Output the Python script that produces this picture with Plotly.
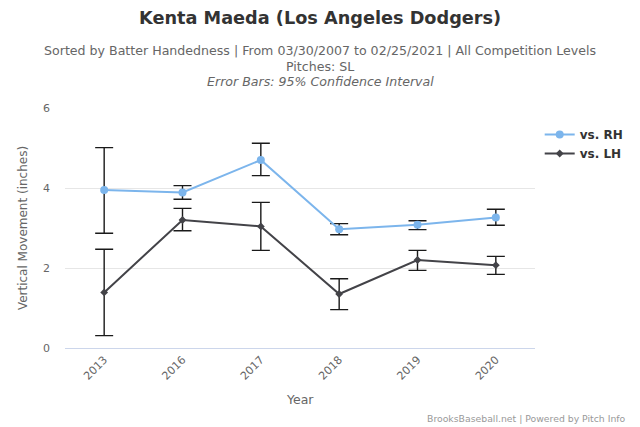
import plotly.graph_objects as go

years = ["2013", "2016", "2017", "2018", "2019", "2020"]
rh_vals = [3.95, 3.89, 4.70, 2.97, 3.08, 3.26]
rh_hi = [5.01, 4.06, 5.12, 3.11, 3.18, 3.47]
rh_lo = [2.87, 3.72, 4.31, 2.83, 2.96, 3.07]
lh_vals = [1.39, 3.20, 3.04, 1.35, 2.20, 2.07]
lh_hi = [2.47, 3.49, 3.64, 1.73, 2.44, 2.29]
lh_lo = [0.31, 2.93, 2.44, 0.96, 1.94, 1.84]

FONT = "DejaVu Sans"
W, H = 632, 419
L, R, T, B = 57, 105, 100, 79
PW, PH = W - L - R, H - T - B


def px(x):
    return (x - L) / PW


def py(y):
    return (H - B - y) / PH


def err(vals, hi, lo):
    return dict(type="data", symmetric=False,
                array=[h - v for h, v in zip(hi, vals)],
                arrayminus=[v - l for v, l in zip(vals, lo)],
                color="#1a1a1a", thickness=1.4, width=9)


fig = go.Figure()
fig.add_trace(go.Scatter(x=years, y=rh_vals, name="vs. RH", mode="lines+markers",
                         line=dict(color="#7cb5ec", width=2),
                         marker=dict(symbol="circle", size=8, color="#7cb5ec"),
                         error_y=err(rh_vals, rh_hi, rh_lo)))
fig.add_trace(go.Scatter(x=years, y=lh_vals, name="vs. LH", mode="lines+markers",
                         line=dict(color="#434348", width=2),
                         marker=dict(symbol="diamond", size=6, color="#434348"),
                         error_y=err(lh_vals, lh_hi, lh_lo)))

fig.update_layout(
    width=W, height=H,
    margin=dict(l=L, r=R, t=T, b=B),
    paper_bgcolor="white", plot_bgcolor="white",
    font=dict(family=FONT, color="#666666", size=12),
    showlegend=True,
    legend=dict(x=1.01, y=py(112), xanchor="left", yanchor="top",
                font=dict(family=FONT, size=12, color="#333333", weight="bold"),
                itemwidth=30),
    xaxis=dict(type="category", range=[-0.5, 5.5], showgrid=False, showline=True,
               linecolor="#ccd6eb", linewidth=1, ticks="", tickangle=-45,
               tickfont=dict(size=11, color="#666666")),
    yaxis=dict(range=[0, 6], tickvals=[0, 2, 4, 6], showgrid=True, gridcolor="#e6e6e6",
               zeroline=False, showline=False, ticks="", ticklabelstandoff=14,
               tickfont=dict(size=11, color="#666666"),
               title=dict(text="Vertical Movement (inches)",
                          font=dict(size=12, color="#666666"), standoff=12)),
)

cx = px(312)
fig.add_annotation(text="<b>Kenta Maeda (Los Angeles Dodgers)</b>", xref="paper", yref="paper",
                   x=cx, y=py(10), xanchor="center", yanchor="middle",
                   showarrow=False, font=dict(family=FONT, size=17.7, color="#333333"))
fig.add_annotation(text="Sorted by Batter Handedness | From 03/30/2007 to 02/25/2021 | All Competition Levels",
                   xref="paper", yref="paper", x=cx, y=py(43),
                   xanchor="center", yanchor="middle", showarrow=False,
                   font=dict(family=FONT, size=12.6, color="#666666"))
fig.add_annotation(text="Pitches: SL", xref="paper", yref="paper", x=cx, y=py(59),
                   xanchor="center", yanchor="middle", showarrow=False,
                   font=dict(family=FONT, size=12.6, color="#666666"))
fig.add_annotation(text="<i>Error Bars: 95% Confidence Interval</i>", xref="paper", yref="paper",
                   x=cx, y=py(74), xanchor="center", yanchor="middle",
                   showarrow=False, font=dict(family=FONT, size=12.6, color="#666666"))
fig.add_annotation(text="Year", xref="paper", yref="paper", x=0.5, y=py(391),
                   xanchor="center", yanchor="middle", showarrow=False,
                   font=dict(family=FONT, size=12.5, color="#666666"))
fig.add_annotation(text="BrooksBaseball.net | Powered by Pitch Info", xref="paper", yref="paper",
                   x=px(620), y=py(410), xanchor="right", yanchor="middle",
                   showarrow=False, font=dict(family=FONT, size=9.3, color="#999999"))

fig.write_html("out.html")
